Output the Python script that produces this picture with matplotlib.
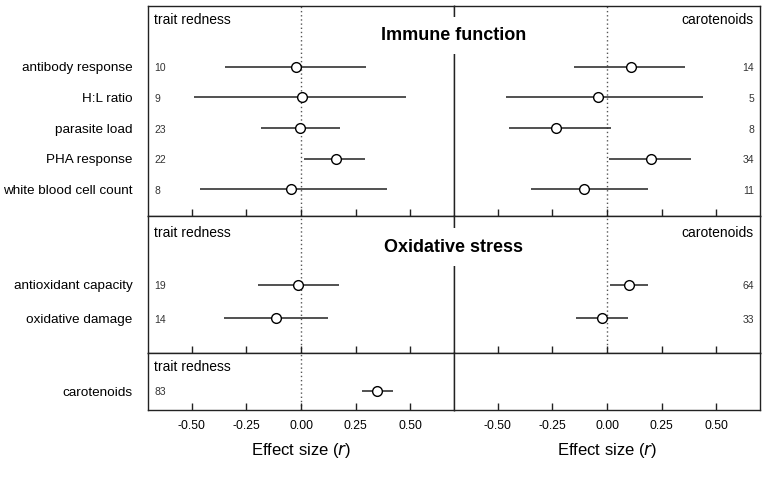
import matplotlib
matplotlib.use("Agg")
import matplotlib.pyplot as plt
import numpy as np

plt.rcParams["font.family"] = ["Liberation Sans", "DejaVu Sans"]
plt.rcParams["axes.unicode_minus"] = False

# --- data ---
immune_labels = ["antibody response", "H:L ratio", "parasite load",
                 "PHA response", "white blood cell count"]
immune_red_est = [-0.025, 0.003, -0.006, 0.160, -0.044]
immune_red_lo = [-0.349, -0.489, -0.183, 0.015, -0.462]
immune_red_hi = [0.299, 0.482, 0.178, 0.294, 0.392]
immune_red_n = [10, 9, 23, 22, 8]
immune_car_est = [0.112, -0.043, -0.234, 0.202, -0.104]
immune_car_lo = [-0.151, -0.460, -0.448, 0.008, -0.350]
immune_car_hi = [0.356, 0.439, 0.020, 0.384, 0.188]
immune_car_n = [14, 5, 8, 34, 11]

ox_labels = ["antioxidant capacity", "oxidative damage"]
ox_red_est = [-0.015, -0.113]
ox_red_lo = [-0.197, -0.352]
ox_red_hi = [0.172, 0.124]
ox_red_n = [19, 14]
ox_car_est = [0.101, -0.022]
ox_car_lo = [0.012, -0.141]
ox_car_hi = [0.188, 0.095]
ox_car_n = [64, 33]

car_labels = ["carotenoids"]
car_red_est = [0.349]
car_red_lo = [0.279]
car_red_hi = [0.421]
car_red_n = [83]

xticks = [-0.50, -0.25, 0.00, 0.25, 0.50]
LINE = "#333333"

W, H = 766, 478
fig = plt.figure(figsize=(W / 100, H / 100), dpi=100)

x_left, x_mid, x_right = 148 / W, 454 / W, 760 / W
rows_px = [(5.5, 216), (216, 353), (353, 410)]


def make_ax(xa, xb, ya, yb):
    ax = fig.add_axes([xa, 1 - yb / H, xb - xa, (yb - ya) / H])
    for s in ax.spines.values():
        s.set_color("#222222")
        s.set_linewidth(1.0)
    ax.set_xlim(-0.7, 0.7)
    ax.set_xticks(xticks)
    ax.tick_params(axis="x", direction="in", length=5, width=1,
                   color="#222222", labelsize=8.7, pad=7)
    ax.tick_params(axis="y", length=0, labelsize=9.7, pad=11)
    return ax


def draw(ax, est, lo, hi, n, ypos, side, zero=True):
    if zero:
        ax.axvline(0, color="#555555", lw=1, ls=(0, (1, 2)), zorder=1)
    est = np.asarray(est)
    xerr = [est - np.asarray(lo), np.asarray(hi) - est]
    ax.errorbar(est, ypos, xerr=xerr, fmt="o", color=LINE, ecolor=LINE,
                elinewidth=1.2, capsize=0, ms=7, mfc="white", mec="black",
                mew=1, zorder=3)
    for yy, nn in zip(ypos, n):
        if side == "left":
            ax.text(0.02, yy - 0.05, str(nn), transform=ax.get_yaxis_transform(),
                    ha="left", va="center", fontsize=7.5, color="#333333")
        else:
            ax.text(0.98, yy - 0.05, str(nn), transform=ax.get_yaxis_transform(),
                    ha="right", va="center", fontsize=7.5, color="#333333")


def panel_label(ax, text, side, yfrac):
    if side == "left":
        ax.text(0.02, yfrac, text, transform=ax.transAxes, ha="left",
                va="center", fontsize=10)
    else:
        ax.text(0.98, yfrac, text, transform=ax.transAxes, ha="right",
                va="center", fontsize=10)


# Immune function row
y_imm = np.arange(len(immune_labels), 0, -1)
axL = make_ax(x_left, x_mid, *rows_px[0])
axR = make_ax(x_mid, x_right, *rows_px[0])
for ax in (axL, axR):
    ax.set_ylim(0.13, 7.0)
    ax.tick_params(axis="x", labelbottom=False)
axL.set_yticks(y_imm)
axL.set_yticklabels(immune_labels)
axR.set_yticks([])
draw(axL, immune_red_est, immune_red_lo, immune_red_hi, immune_red_n, y_imm, "left")
draw(axR, immune_car_est, immune_car_lo, immune_car_hi, immune_car_n, y_imm, "right")
panel_label(axL, "trait redness", "left", 0.93)
panel_label(axR, "carotenoids", "right", 0.93)

# Oxidative stress row
y_ox = np.arange(len(ox_labels), 0, -1)
axL2 = make_ax(x_left, x_mid, *rows_px[1])
axR2 = make_ax(x_mid, x_right, *rows_px[1])
for ax in (axL2, axR2):
    ax.set_ylim(-0.03, 4.04)
    ax.tick_params(axis="x", labelbottom=False)
axL2.set_yticks(y_ox)
axL2.set_yticklabels(ox_labels)
axR2.set_yticks([])
draw(axL2, ox_red_est, ox_red_lo, ox_red_hi, ox_red_n, y_ox, "left")
draw(axR2, ox_car_est, ox_car_lo, ox_car_hi, ox_car_n, y_ox, "right")
panel_label(axL2, "trait redness", "left", 0.878)
panel_label(axR2, "carotenoids", "right", 0.878)

# Carotenoid row
y_car = np.arange(len(car_labels), 0, -1)
axL3 = make_ax(x_left, x_mid, *rows_px[2])
axR3 = make_ax(x_mid, x_right, *rows_px[2])
for ax in (axL3, axR3):
    ax.set_ylim(0, 3)
    ax.set_xticklabels([f"{t:.2f}" for t in xticks])
    ax.set_xlabel("Effect size ($\\mathit{r}$)", fontsize=12, labelpad=7)
axL3.set_yticks(y_car)
axL3.set_yticklabels(car_labels)
axR3.set_yticks([])
draw(axL3, car_red_est, car_red_lo, car_red_hi, car_red_n, y_car, "left")
panel_label(axL3, "trait redness", "left", 0.76)

# section titles, white box hides the middle divider
box = dict(facecolor="white", edgecolor="none", pad=7.5)
fig.text(x_mid, 1 - 35.5 / H, "Immune function", ha="center", va="center",
         fontsize=13, fontweight="bold", bbox=box)
fig.text(x_mid, 1 - 247 / H, "Oxidative stress", ha="center", va="center",
         fontsize=13, fontweight="bold", bbox=box)

fig.savefig("out.png", dpi=100)
